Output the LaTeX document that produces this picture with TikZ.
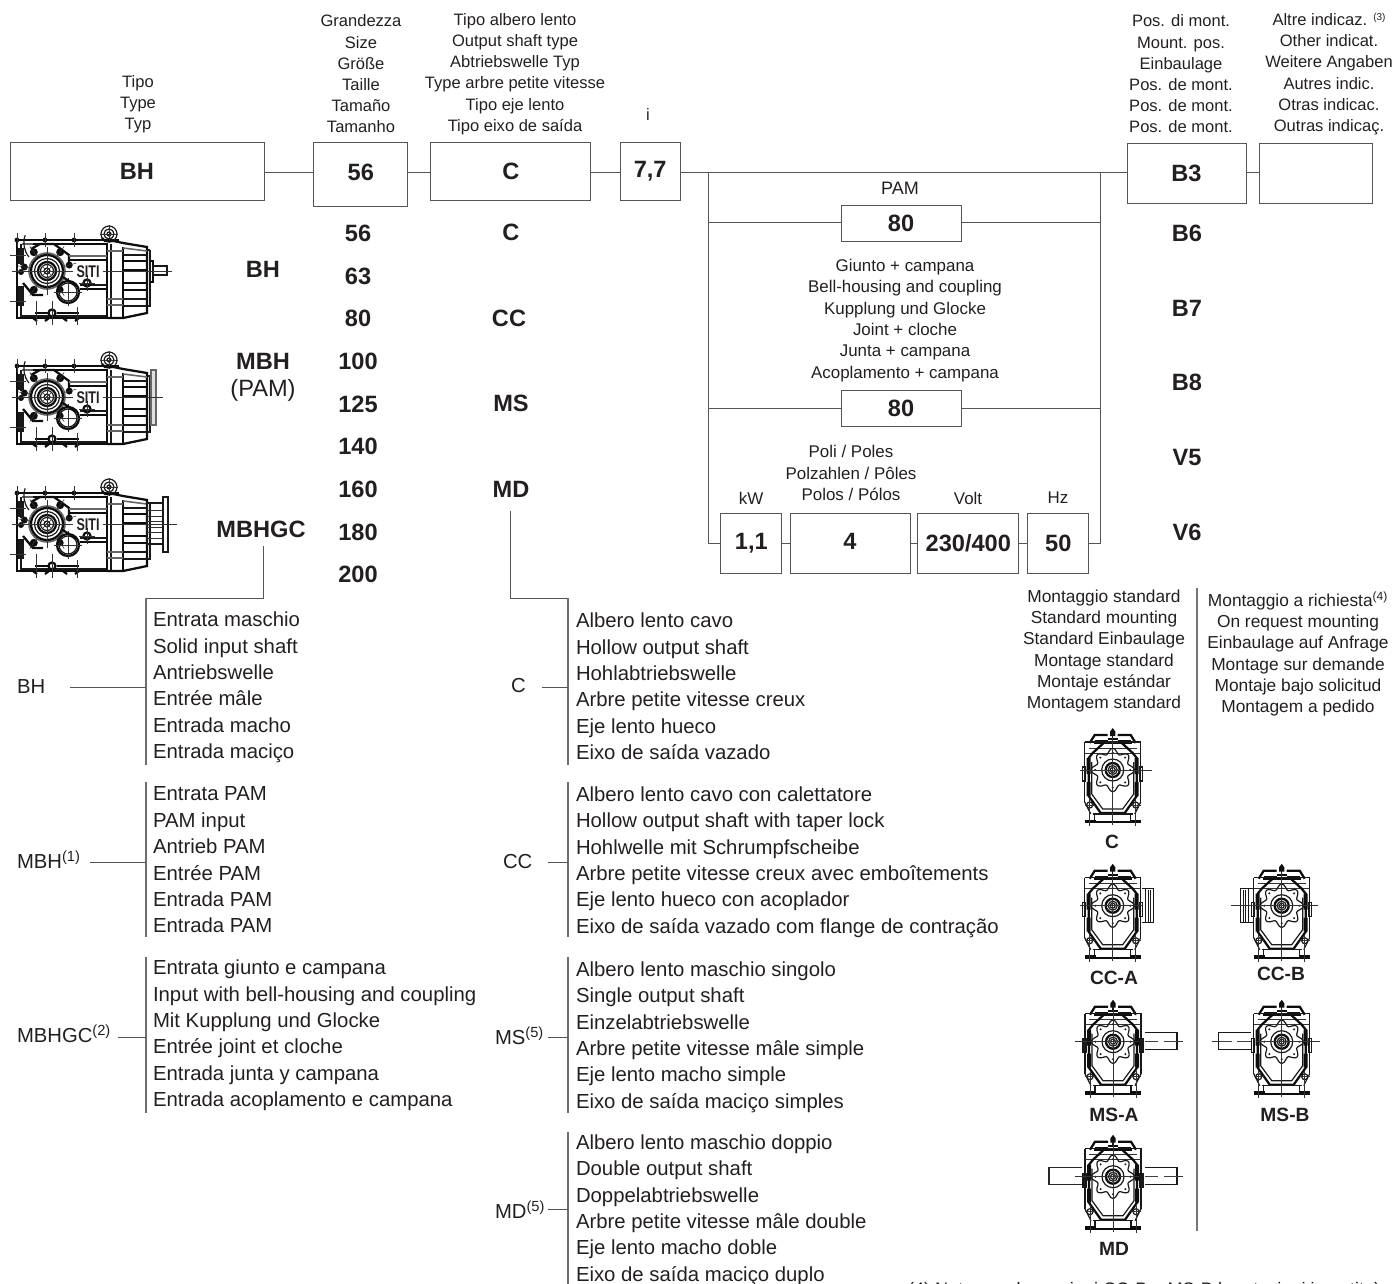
\documentclass[tikz,border=0pt]{standalone}
\usepackage{fontspec}
\setmainfont{Liberation Sans}
\definecolor{ink}{HTML}{231F20}
\definecolor{linec}{HTML}{555555}
\tikzset{
  x=0.75pt,y=-0.75pt,
  every node/.style={inner sep=0pt,outer sep=0pt,text=ink},
  conn/.style={draw=linec,line width=0.75pt},
  rule/.style={draw=linec!85,line width=1.2pt},
  pbox/.style 2 args={draw=linec,line width=0.7pt,minimum width=#1*0.75pt,minimum height=#2*0.75pt},
  big/.style={font=\fontsize{17.7pt}{20pt}\selectfont\bfseries},
  head/.style={align=center,font=\fontsize{12.4pt}{15.9pt}\selectfont},
  mid/.style={align=center,font=\fontsize{12.7pt}{16pt}\selectfont},
  mont/.style={align=center,font=\fontsize{13pt}{15.9pt}\selectfont},
  listtxt/.style={align=left,anchor=west,font=\fontsize{15.25pt}{19.8pt}\selectfont},
  side/.style={anchor=west,font=\fontsize{15.2pt}{18pt}\selectfont},
  capt/.style={font=\fontsize{14.4pt}{16pt}\selectfont\bfseries},
  hv/.style={draw=black!95,line width=1.7pt},
  md/.style={draw=black!90,line width=0.9pt},
  fn/.style={draw=black!80,line width=0.4pt},
  gr/.style={draw=black!60,line width=1.2pt},
  sidegear/.pic={
    % housing
    \draw[hv] (-30,-31) -- (72,-31);
    \draw[hv] (-14,-27) -- (60,-27);
    \draw[hv] (-30,-31) -- (-30,47) -- (60,47);
    \draw[md] (-26,-27) -- (-26,-6) (-26,16) -- (-26,45) -- (60,45);
    \draw[md] (-28,-22) rectangle (-24,-8);
    \draw[md] (-28,16) rectangle (-24,34);
    \draw[gr] (-25,-27) -- (-14,-27);
    % central wall
    \draw[hv] (60,-28) -- (60,46);
    \draw[md] (64,-27) -- (64,47);
    \draw[hv] (76,-24) -- (76,46);
    \draw[gr] (60,-20) -- (76,-20) (60,28) -- (76,28) (60,34) -- (76,34);
    % motor side drum
    \draw[hv] (62,-31) -- (76,-28) -- (100,-24) -- (100,42) -- (76,47) -- (60,47);
    \draw[gr] (76,-23) -- (100,-20);
    \draw[hv] (76,-10) -- (100,-10) (76,-1) -- (100,-1) (76,12) -- (100,12) (76,19) -- (100,19);
    \draw[md] (76,-16) -- (100,-16) (76,28) -- (100,28) (76,35) -- (100,35);
    \draw[md] (103,-21) -- (100,-21) (103,-21) -- (103,35) -- (100,35);
    % gear bore
    \draw[gr] (0,0) circle (18);
    \draw[hv] (0,0) circle (16);
    \draw[md] (0,0) circle (12.5);
    \draw[hv] (0,0) circle (9);
    \draw[md] (0,0) circle (6.5);
    \draw[md] (0,0) circle (3);
    \draw[fn] (-5,-5) -- (5,5) (-5,5) -- (5,-5);
    % flange polygon and studs
    \draw[hv] (-16,-22) -- (-7,-27) -- (7,-27) -- (22,-16) -- (22,-9);
    \draw[md] (-18,-14) arc (140:200:22);
    \draw[hv] (-24,12) -- (-14,24) -- (-4,24);
    \foreach \a/\q in {-125/4,-55/4,-15/3.5,125/4,55/3.5,190/3.5}{
      \fill[black!95] (\a:23) circle (\q);
      \draw[fn] (\a:17) -- (\a:30);
    }
    % second bore
    \draw[hv] (21,21) circle (11);
    \draw[md] (21,21) circle (9);
    \draw[fn] (21,7) -- (21,35) (7,21) -- (35,21);
    \draw[hv] (14,5) -- (30,15);
    \draw[hv] (22,-11) -- (60,-11);
    \draw[gr] (22,-15) -- (60,-15);
    \draw[hv] (33,18) -- (60,18);
    \draw[md] (33,14) -- (60,14);
    % small bolt
    \draw[hv] (40,12) circle (3.5);
    \draw[fn] (40,4) -- (40,20) (32,12) -- (48,12);
    % lifting eye
    \draw[md] (62,-37) circle (8);
    \draw[md] (62,-37) circle (5);
    \draw[md] (62,-37) circle (2);
    \draw[fn] (53,-37) -- (71,-37) (62,-46) -- (62,-28);
    \draw[hv] (55,-33) -- (58,-30) -- (72,-30);
    % base
    \draw[hv] (-12,42) -- (2,42) (10,42) -- (32,42);
    \draw[hv] (-14,47) -- (-10,50) (-2,50) -- (2,47) (16,47) -- (20,50) (28,50) -- (32,47);
    \draw[hv] (5,42) circle (3.5);
    \draw[fn] (5,30) -- (5,54) (-11,30) -- (-11,54) (30,36) -- (30,54);
    % top and left studs
    \foreach \x in {-30,-2,27}{\fill[black!95] (\x,-31) circle (2.4); \draw[fn] (\x,-38) -- (\x,-24);}
    \foreach \y in {-16,30}{\draw[fn] (-37,\y) -- (-21,\y);}
    \fill[black!95] (-26,1) circle (3);
    \draw[fn] (0,-24) -- (0,24);
    % logo
    \node[font=\fontsize{9.4pt}{10pt}\selectfont\bfseries] at (41,1) {\scalebox{1}[1.35]{SITI}};
  },
  bhend/.pic={
    \draw[hv] (103,-10) -- (106,-10) -- (106,11) -- (103,11);
    \draw[md] (106,-5) rectangle (120,4);
    \draw[fn] (-35,0) -- (26,0) (56,0) -- (125,0);
  },
  pamend/.pic={
    \draw[md] (103,-12) rectangle (104,13);
    \draw[gr,fill=black!12] (104,-27) rectangle (109,28);
    \draw[fn] (-35,0) -- (26,0) (56,0) -- (116,0);
  },
  gcend/.pic={
    \draw[md] (100,-21) rectangle (116,20);
    \foreach \y in {-14,-8,-3,3,8,14}{\draw[fn] (100,\y) -- (116,\y);}
    \draw[md] (116,-27) rectangle (121,28);
    \draw[fn] (-35,0) -- (26,0) (56,0) -- (130,0);
  },
  frontgear/.pic={
    % top cap and vent
    \draw[md] (0,-41) -- (0,-32);
    \draw[hv] (-1.5,-34) -- (-1.5,-38) -- (0,-40) -- (1.5,-38) -- (1.5,-34);
    \draw[hv] (-23,-27) -- (-18,-35) -- (-5,-35) (5,-35) -- (18,-35) -- (23,-27);
    \draw[hv] (-18,-29) -- (-5,-29) (5,-29) -- (18,-29);
    \draw[hv] (-19,-27) -- (19,-27);
    \draw[hv] (-5,-31) -- (5,-31);
    % side frame
    \draw[md] (-28,-28) -- (28,-28) -- (28,32) (-28,-28) -- (-28,32);
    \draw[fn] (-28,-17) -- (28,-17) (-24,-22) -- (24,-22);
    \draw[md] (-27,-3) rectangle (-30,11) (27,-3) rectangle (30,11);
    % body outline
    \draw[hv] (-8,-28) -- (-20,-17) -- (-24,-12) -- (-24,26) -- (-12,43) -- (12,43) -- (24,26) -- (24,-12) -- (20,-17) -- (8,-28);
    \draw[md] (-21,-8) -- (-21,24) -- (-10,39) -- (10,39) -- (21,24) -- (21,-8);
    \fill[black!95] (-26,-12) rectangle (-22,4) (22,-12) rectangle (26,4) (-26,12) rectangle (-22,26) (22,12) rectangle (26,26);
    % base
    \draw[md] (-28,32) -- (-22,44) (28,32) -- (22,44);
    \draw[md] (-20,44) -- (20,44) (-18,44) -- (-18,52) (18,44) -- (18,52);
    \draw[hv,line width=2.6pt] (-28,51.5) -- (-17,51.5) (17,51.5) -- (28,51.5);
    \draw[hv] (-17,52) -- (17,52);
    \draw[md] (-23,35) circle (3) (23,35) circle (3);
    \draw[fn] (-23,29) -- (-23,56) (23,29) -- (23,56) (-28,35) -- (-18,35) (18,35) -- (28,35);
    % gear flower
    \draw[md] plot[domain=0:360,samples=145,smooth] (\x:{19+2.6*cos(8*\x)});
    \foreach \a in {0,45,...,315}{\fill[black!90] (\a:17.5) circle (1.1);}
    \draw[md] (0,0) circle (11);
    \draw[hv] (0,0) circle (7);
    \draw[md] (0,0) circle (4.5);
    \draw[md] (0,0) circle (2.5);
    % axis
    \draw[fn] (0,-32) -- (0,55);
  },
  axisC/.pic={\draw[fn] (-33,0) -- (39,0);},
  shaftR/.pic={
    \draw[md] (32,-9) -- (64,-9) -- (64,7.5) -- (32,7.5);
    \draw[fn] (64,0) -- (70,0) (-38,0) -- (26,0);
    \draw[draw=black!75,line width=0.5pt,dash pattern=on 10pt off 4pt] (32,0) -- (64,0);
  },
  shaftL/.pic={
    \draw[md] (-31,-9) -- (-63,-9) -- (-63,7.5) -- (-31,7.5);
    \draw[fn] (-70,0) -- (-63,0) (-26,0) -- (38,0);
    \draw[draw=black!75,line width=0.5pt,dash pattern=on 10pt off 4pt] (-31,0) -- (-63,0);
  },
  drumR/.pic={
    \draw[md] (29,-17) -- (41,-17) -- (41,17) -- (29,17);
    \draw[md] (33,-17) -- (33,17) (36,-16) -- (36,16) (38,-16) -- (38,16);
    \draw[fn] (-33,0) -- (29,0);
  },
  drumL/.pic={
    \draw[md] (-29,-17) -- (-41,-17) -- (-41,17) -- (-29,17);
    \draw[md] (-33,-17) -- (-33,17) (-36,-16) -- (-36,16) (-38,-16) -- (-38,16);
    \draw[fn] (-51,0) -- (36,0);
  },
}
\begin{document}
\begin{tikzpicture}
\useasboundingbox (0,0) rectangle (1396,1284);
\begin{scope}
\clip (0,0) rectangle (1396,1284);

% ---- reference coordinates
\coordinate (busy) at (0,172.7);
\coordinate (rowy) at (0,543);
\coordinate (busL) at (708,172.7);
\coordinate (busR) at (1100.7,172.7);

% ---- top row
\node[pbox={254}{58},big] (bh)  at (137,171) {BH};
\node[pbox={94}{64},big]  (s56) at (360.8,174) {\raisebox{2.25pt}{56}};
\node[pbox={160}{58},big] (cb)  at (510.8,171) {C};
\node[pbox={60}{58},big]  (rat) at (650.2,171) {7,7};
\node[pbox={119}{60},big] (b3)  at (1186.5,173) {B3};
\node[pbox={113}{60}]     (oth) at (1315.5,173) {};
\draw[conn] (bh.east |- busy) -- (s56.west |- busy);
\draw[conn] (s56.east |- busy) -- (cb.west |- busy);
\draw[conn] (cb.east |- busy) -- (rat.west |- busy);
\draw[conn] (rat.east |- busy) -- (b3.west |- busy);
\draw[conn] (b3.east |- busy) -- (oth.west |- busy);

% ---- headers
\node[head] (h1) at (138,104) {Tipo\\Type\\Typ};
\node[head] (h2) at (361,74) {Grandezza\\Size\\Größe\\Taille\\Tamaño\\Tamanho};
\node[head] (h3) at (515,74) {Tipo albero lento\\Output shaft type\\Abtriebswelle Typ\\Type arbre petite vitesse\\Tipo eje lento\\Tipo eixo de saída};
\node[head] (h4) at (648,115) {i};
\node[head] (h5) at (1181,74) {Pos. di mont.\\Mount. pos.\\Einbaulage\\Pos. de mont.\\Pos. de mont.\\Pos. de mont.};
\node[head] (h6) at (1329,74) {Altre indicaz. {\fontsize{7.5pt}{8pt}\selectfont\raisebox{4pt}{(3)}}\\Other indicat.\\Weitere Angaben\\Autres indic.\\Otras indicac.\\Outras indicaç.};

% ---- options bus
\node[font=\fontsize{13.5pt}{16pt}\selectfont] (pamt) at (900,188) {PAM};
\node[pbox={120}{36},big] (p80) at (901,223) {80};
\node[mid] (gc) at (905,320.5) {Giunto + campana\\Bell-housing and coupling\\Kupplung und Glocke\\Joint + cloche\\Junta + campana\\Acoplamento + campana};
\node[pbox={120}{36},big] (c80) at (901,408) {80};
\node[mid] (tkw)  at (751,498) {kW};
\node[mid] (tpol) at (851,473) {Poli / Poles\\Polzahlen / Pôles\\Polos / Pólos};
\node[mid] (tvol) at (968,498) {Volt};
\node[mid] (thz)  at (1058,498) {Hz};
\node[pbox={61}{60},big]  (kw)  at (751.3,543) {1,1};
\node[pbox={120}{60},big] (pol) at (850,543) {\raisebox{3pt}{4}};
\node[pbox={101}{60},big] (vol) at (968.3,543) {230/400};
\node[pbox={61}{60},big]  (hz)  at (1058.3,543) {50};
\draw[conn] (busL) -- (busL |- rowy) -- (kw.west |- rowy);
\draw[conn] (busR) -- (busR |- rowy) -- (hz.east |- rowy);
\draw[conn] (kw.east |- rowy) -- (pol.west |- rowy);
\draw[conn] (pol.east |- rowy) -- (vol.west |- rowy);
\draw[conn] (vol.east |- rowy) -- (hz.west |- rowy);
\draw[conn] (busL |- p80) -- (p80.west);
\draw[conn] (p80.east) -- (busR |- p80);
\draw[conn] (busL |- c80) -- (c80.west);
\draw[conn] (c80.east) -- (busR |- c80);

% ---- value columns
\foreach \n/\v/\y in {a/56/233,b/63/276,c/80/318,d/100/361,e/125/404,f/140/446,g/160/489,h/180/532,k/200/574}{
  \node[big] (size\n) at (358,\y) {\v};
}
\node[big] (vc)  at (511,232) {C};
\node[big] (vcc) at (509,318) {CC};
\node[big] (vms) at (511,403) {MS};
\node[big] (vmd) at (511,489) {MD};
\foreach \n/\y in {B6/233,B7/308,B8/382,V5/457,V6/532}{
  \node[big] (pos\n) at (1187,\y) {\n};
}
\node[big] (tbh) at (263,269) {BH};
\node[big] (tmbh) at (263,361) {MBH};
\node[font=\fontsize{17.7pt}{20pt}\selectfont] (tpam) at (263,390) {(PAM)};
\node[big] (tgc) at (261,529) {MBHGC};

% ---- gearbox side views
\pic at (47,271) {sidegear};
\pic at (47,271) {bhend};
\pic at (47,397) {sidegear};
\pic at (47,397) {pamend};
\pic at (47,524) {sidegear};
\pic at (47,524) {gcend};

% ---- left lists
\coordinate (j0) at (263,546);
\coordinate (j1) at (263,598);
\coordinate (k1) at (146,598);
\coordinate (k1e) at (146,765);
\draw[conn] (j0) -- (j1) -- (k1);
\draw[rule] (k1) -- (k1e);
\coordinate (k2) at (146,782); \coordinate (k2e) at (146,937);
\draw[rule] (k2) -- (k2e);
\coordinate (k3) at (146,957); \coordinate (k3e) at (146,1113);
\draw[rule] (k3) -- (k3e);

\node[listtxt] (l1) at (153,687.5) {Entrata maschio\\Solid input shaft\\Antriebswelle\\Entrée mâle\\Entrada macho\\Entrada maciço};
\node[listtxt] (l2) at (153,860) {Entrata PAM\\PAM input\\Antrieb PAM\\Entrée PAM\\Entrada PAM\\Entrada PAM};
\node[listtxt] (l3) at (153,1035.5) {Entrata giunto e campana\\Input with bell-housing and coupling\\Mit Kupplung und Glocke\\Entrée joint et cloche\\Entrada junta y campana\\Entrada acoplamento e campana};

\node[side] (sbh) at (17,687) {BH};
\node[side] (smbh) at (17,860) {MBH\textsuperscript{\fontsize{11pt}{12pt}\selectfont(1)}};
\node[side] (sgc) at (17,1034) {MBHGC\textsuperscript{\fontsize{11pt}{12pt}\selectfont(2)}};
\coordinate (e1) at (70,687); \coordinate (e2) at (90,862); \coordinate (e3) at (118,1037);
\draw[conn] (e1) -- (k1 |- e1);
\draw[conn] (e2) -- (k2 |- e2);
\draw[conn] (e3) -- (k3 |- e3);

% ---- middle lists
\coordinate (m0) at (510,511);
\coordinate (m1) at (510,598);
\coordinate (n1) at (568,598); \coordinate (n1e) at (568,765);
\draw[conn] (m0) -- (m1) -- (n1);
\draw[rule] (n1) -- (n1e);
\coordinate (n2) at (568,782); \coordinate (n2e) at (568,937);
\draw[rule] (n2) -- (n2e);
\coordinate (n3) at (568,957); \coordinate (n3e) at (568,1113);
\draw[rule] (n3) -- (n3e);
\coordinate (n4) at (568,1132); \coordinate (n4e) at (568,1284);
\draw[rule] (n4) -- (n4e);

\node[listtxt] (r1) at (576,686.5) {Albero lento cavo\\Hollow output shaft\\Hohlabtriebswelle\\Arbre petite vitesse creux\\Eje lento hueco\\Eixo de saída vazado};
\node[listtxt] (r2) at (576,862) {Albero lento cavo con calettatore\\Hollow output shaft with taper lock\\Hohlwelle mit Schrumpfscheibe\\Arbre petite vitesse creux avec emboîtements\\Eje lento hueco con acoplador\\Eixo de saída vazado com flange de contração};
\node[listtxt] (r3) at (576,1037) {Albero lento maschio singolo\\Single output shaft\\Einzelabtriebswelle\\Arbre petite vitesse mâle simple\\Eje lento macho simple\\Eixo de saída maciço simples};
\node[listtxt] (r4) at (576,1210) {Albero lento maschio doppio\\Double output shaft\\Doppelabtriebswelle\\Arbre petite vitesse mâle double\\Eje lento macho doble\\Eixo de saída maciço duplo};

\node[side] (sc) at (511,686) {C};
\node[side] (scc) at (503,862) {CC};
\node[side] (sms) at (495,1036) {MS\textsuperscript{\fontsize{11pt}{12pt}\selectfont(5)}};
\node[side] (smd) at (495,1210) {MD\textsuperscript{\fontsize{11pt}{12pt}\selectfont(5)}};
\coordinate (f1) at (542,687); \coordinate (f2) at (548,862); \coordinate (f3) at (548,1037); \coordinate (f4) at (548,1209);
\draw[conn] (f1) -- (n1 |- f1);
\draw[conn] (f2) -- (n2 |- f2);
\draw[conn] (f3) -- (n3 |- f3);
\draw[conn] (f4) -- (n4 |- f4);

% ---- mounting
\node[mont] (ms1) at (1104,651) {Montaggio standard\\Standard mounting\\Standard Einbaulage\\Montage standard\\Montaje estándar\\Montagem standard};
\node[mont] (ms2) at (1298,654) {Montaggio a richiesta\textsuperscript{\fontsize{9pt}{10pt}\selectfont(4)}\\On request mounting\\Einbaulage auf Anfrage\\Montage sur demande\\Montaje bajo solicitud\\Montagem a pedido};
\coordinate (dv1) at (1197,588); \coordinate (dv2) at (1197,1231);
\draw[draw=linec!80,line width=1.1pt] (dv1) -- (dv2);

\pic at (1112.7,770) {frontgear};
\pic at (1112.7,770) {axisC};
\pic at (1112.7,905.7) {frontgear};
\pic at (1112.7,905.7) {drumR};
\pic at (1281.7,905.7) {frontgear};
\pic at (1281.7,905.7) {drumL};
\pic at (1113,1041.7) {frontgear};
\pic at (1113,1041.7) {shaftR};
\pic at (1281.7,1041.7) {frontgear};
\pic at (1281.7,1041.7) {shaftL};
\pic at (1113,1176.7) {frontgear};
\pic at (1113,1176.7) {shaftR};
\coordinate (mdl) at (1113,1176.7);
\draw[draw=black!85,line width=0.9pt] ([shift={(-31,-9)}]mdl) -- ([shift={(-64,-9)}]mdl) -- ([shift={(-64,7.5)}]mdl) -- ([shift={(-31,7.5)}]mdl);

\node[capt] (cC)  at (1112,842) {C};
\node[capt] (cCA) at (1114,978) {CC-A};
\node[capt] (cCB) at (1281,974) {CC-B};
\node[capt] (cMA) at (1114,1115) {MS-A};
\node[capt] (cMB) at (1285,1115) {MS-B};
\node[capt] (cMD) at (1114,1249) {MD};

% ---- footnote, cut by the page edge
\node[anchor=base west,font=\fontsize{13.6pt}{16pt}\selectfont] (foot) at (908,1295) {(4) Nota: per le versioni CC-B e MS-B le rotazioni invertite)};
\end{scope}
\end{tikzpicture}
\end{document}
